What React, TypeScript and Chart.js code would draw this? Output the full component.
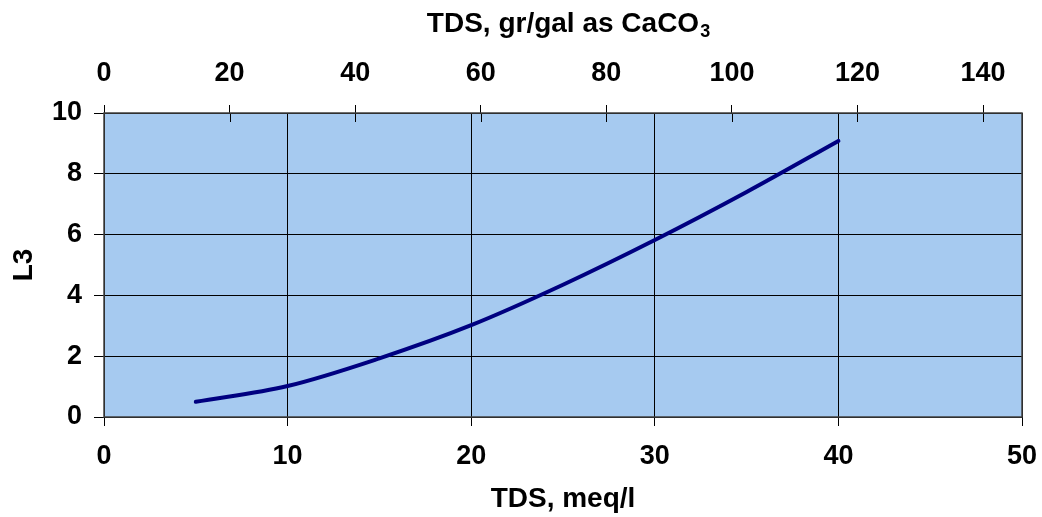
import React, { useEffect, useRef } from 'react';
import { Chart, registerables } from 'chart.js';

Chart.register(...registerables);

// ---- data ----
const tdsMeq = [5, 10, 15, 20, 25, 30, 35, 40];
const l3Values = [0.5, 1.02, 1.93, 3.02, 4.35, 5.82, 7.4, 9.08];
const bottomTicks = [0, 10, 20, 30, 40, 50];
const topTicks = [0, 20, 40, 60, 80, 100, 120, 140];
const leftTicks = [0, 2, 4, 6, 8, 10];
const grPerMeq = 50 / 17.1; // gr/gal as CaCO3 per meq/l
const xMax = 50;
const yMax = 10;
const topTitle = 'TDS, gr/gal as CaCO';
const topTitleSub = '3';
const bottomTitle = 'TDS, meq/l';
const leftTitle = 'L3';

const FAMILY = "'Liberation Sans', Arial, sans-serif";
const tickFont = { family: FAMILY, size: 27, weight: 'bold' as const };
const titleFont = { family: FAMILY, size: 28, weight: 'bold' as const };

const framePlugin = {
  id: 'frame',
  beforeDraw(chart: any) {
    const { ctx, chartArea: a } = chart;
    ctx.save();
    ctx.fillStyle = '#A6CAF0';
    ctx.fillRect(a.left, a.top, a.right - a.left, a.bottom - a.top);
    ctx.restore();
  },
  afterDraw(chart: any) {
    const { ctx, chartArea: a } = chart;
    const top = chart.scales.x2;
    ctx.save();
    // inner part of the top-axis tick marks
    ctx.strokeStyle = '#000';
    ctx.lineWidth = 1;
    topTicks.forEach((v) => {
      const x = Math.round(top.getPixelForValue(v)) + 0.5;
      ctx.beginPath();
      ctx.moveTo(x, a.top);
      ctx.lineTo(x, a.top + 9);
      ctx.stroke();
    });
    // plot frame
    ctx.strokeStyle = '#404040';
    ctx.lineWidth = 1.5;
    ctx.strokeRect(a.left, a.top, a.right - a.left, a.bottom - a.top);
    // top title with subscript
    ctx.fillStyle = '#000';
    ctx.textBaseline = 'middle';
    ctx.textAlign = 'left';
    ctx.font = `bold 28px ${FAMILY}`;
    const w1 = ctx.measureText(topTitle).width;
    ctx.font = `bold 18px ${FAMILY}`;
    const w2 = ctx.measureText(topTitleSub).width;
    const cx = (a.left + a.right) / 2 + 5;
    const sx = cx - (w1 + w2) / 2;
    ctx.font = `bold 28px ${FAMILY}`;
    ctx.fillText(topTitle, sx, 24);
    ctx.font = `bold 18px ${FAMILY}`;
    ctx.fillText(topTitleSub, sx + w1 + 1, 32);
    ctx.restore();
  },
};

export default function App() {
  const ref = useRef<HTMLCanvasElement>(null);

  useEffect(() => {
    document.body.style.margin = '0';
    const canvas = ref.current;
    if (!canvas) return;
    const chart = new Chart(canvas, {
      type: 'line',
      data: {
        datasets: [
          {
            label: 'L3',
            data: tdsMeq.map((x, i) => ({ x, y: l3Values[i] })),
            borderColor: '#000080',
            borderWidth: 4,
            pointRadius: 0,
            fill: false,
            cubicInterpolationMode: 'monotone',
            borderCapStyle: 'round',
            xAxisID: 'x',
            yAxisID: 'y',
          },
        ],
      },
      options: {
        animation: false,
        responsive: false,
        devicePixelRatio: 1,
        layout: { padding: { left: 0, right: 20, top: 0, bottom: 0 } },
        plugins: { legend: { display: false }, tooltip: { enabled: false } },
        scales: {
          x: {
            type: 'linear',
            position: 'bottom',
            min: 0,
            max: xMax,
            afterBuildTicks: (s: any) => {
              s.ticks = bottomTicks.map((v) => ({ value: v }));
            },
            afterFit: (s: any) => {
              s.height = 100;
              s.paddingLeft = 0;
              s.paddingRight = 0;
            },
            ticks: { font: tickFont, color: '#000', padding: 14, maxRotation: 0, autoSkip: false },
            grid: { color: '#000', lineWidth: 1, tickLength: 9, drawOnChartArea: true },
            border: { display: false },
            title: { display: true, text: bottomTitle, font: titleFont, color: '#000', padding: { top: 0, bottom: 1 } },
          },
          x2: {
            type: 'linear',
            position: 'top',
            display: true,
            min: 0,
            max: xMax * grPerMeq,
            afterBuildTicks: (s: any) => {
              s.ticks = topTicks.map((v) => ({ value: v }));
            },
            afterFit: (s: any) => {
              s.height = 113;
              s.paddingLeft = 0;
              s.paddingRight = 0;
            },
            ticks: { font: tickFont, color: '#000', padding: 15, maxRotation: 0, autoSkip: false },
            grid: { color: '#000', lineWidth: 1, tickLength: 8, drawOnChartArea: false },
            border: { display: false },
            title: { display: false },
          },
          y: {
            type: 'linear',
            position: 'left',
            min: 0,
            max: yMax,
            afterBuildTicks: (s: any) => {
              s.ticks = leftTicks.map((v) => ({ value: v }));
            },
            afterFit: (s: any) => {
              s.width = 104;
              s.paddingTop = 0;
              s.paddingBottom = 0;
            },
            ticks: { font: tickFont, color: '#000', padding: 12 },
            grid: { color: '#000', lineWidth: 1, tickLength: 10 },
            border: { display: false },
            title: { display: true, text: leftTitle, font: titleFont, color: '#000', padding: { top: 7, bottom: 0 } },
          },
        },
      },
      plugins: [framePlugin],
    } as any);
    return () => chart.destroy();
  }, []);

  return (
    <div style={{ width: 1042, height: 517, background: '#fff' }}>
      <canvas ref={ref} width={1042} height={517} />
    </div>
  );
}
